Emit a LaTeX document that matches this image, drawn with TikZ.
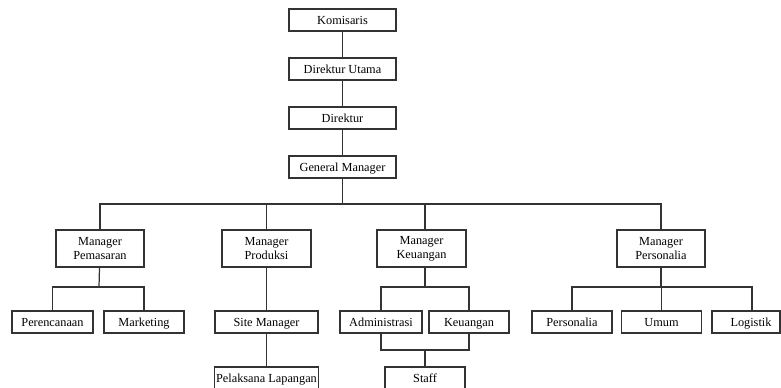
\documentclass[tikz,border=0pt]{standalone}
\usepackage{fontspec}
\setmainfont{Liberation Serif}
\usepackage{tikz}
\usetikzlibrary{positioning,calc}

\begin{document}
\begin{tikzpicture}[x=0.02cm, y=-0.02cm, line width=0.7pt, draw=black!80,
  kotak/.style={draw=black!80, fill=white, inner sep=1pt, minimum height=0.44cm, text height=1.6ex, text depth=0.45ex, align=center, font=\fontsize{7}{8}\selectfont},
  kotakdua/.style={kotak, text height=, text depth=, minimum height=0.74cm}]
\useasboundingbox (0,0) rectangle (781,387);
\clip (0,0) rectangle (781,387);

%pimpinan
\node[kotak, minimum width=2.14cm] (kom) at (342.5,20) {Komisaris};
\node[kotak, minimum width=2.14cm] (dirut) at (342.5,69) {Direktur Utama};
\node[kotak, minimum width=2.14cm] (dir) at (342.5,118) {Direktur};
\node[kotak, minimum width=2.14cm] (gm) at (342.5,167) {General Manager};

%manager
\node[kotakdua, minimum width=1.76cm] (mpem) at (100,248.5) {Manager\\Pemasaran};
\node[kotakdua, minimum width=1.78cm] (mprod) at (266.5,248.5) {Manager\\Produksi};
\node[kotakdua, minimum width=1.78cm] (mkeu) at (421.5,248.5) {Manager\\Keuangan};
\node[kotakdua, minimum width=1.76cm] (mpers) at (661,248.5) {Manager\\Personalia};

%bagian
\node[kotak, minimum width=1.62cm] (peren) at (52.5,322) {Perencanaan};
\node[kotak, minimum width=1.60cm] (mark) at (144,322) {Marketing};
\node[kotak, minimum width=2.06cm] (site) at (266.5,322) {Site Manager};
\node[kotak, minimum width=1.64cm] (adm) at (381,322) {Administrasi};
\node[kotak, minimum width=1.60cm] (keu) at (469,322) {Keuangan};
\node[kotak, minimum width=1.60cm] (pers) at (572,322) {Personalia};
\node[kotak, minimum width=1.60cm] (umum) at (661.5,322) {Umum};
\node[kotak, minimum width=1.36cm] (logi) at (746,322) {\hspace{0.2cm}Logistik};

%bawah
\node[kotak, minimum width=2.06cm] (pelak) at (266.5,378) {Pelaksana Lapangan};
\node[kotak, minimum width=1.60cm] (staff) at (425,378) {Staff};

%cabang
\coordinate (bus) at (342.5,204);
\coordinate (keux) at (425,204);
\coordinate (bpem) at (99,287);
\coordinate (bkeu) at (425,287);
\coordinate (bpers) at (661,287);
\coordinate (blogi) at (752,287);
\coordinate (bstaff) at (425,350);

\draw (kom) -- (dirut) -- (dir) -- (gm);
\draw (gm) -- (bus);
\draw (mpem) |- (bus) -| (mpers);
\draw (mprod) -- (mprod |- bus);
\draw (keux) -- (keux |- mkeu.north);

\draw (mpem) -- (bpem);
\draw (peren) |- (bpem) -| (mark);
\draw (mprod) -- (site) -- (pelak);
\draw (keux |- mkeu.south) -- (bkeu);
\draw (adm) |- (bkeu) -| (keu);
\draw (adm) |- (bstaff) -| (keu);
\draw (bstaff) -- (staff);
\draw (mpers) -- (bpers);
\draw (pers) |- (blogi) -- (blogi |- logi.north);
\draw (umum) -- (umum |- bpers);
\end{tikzpicture}
\end{document}
